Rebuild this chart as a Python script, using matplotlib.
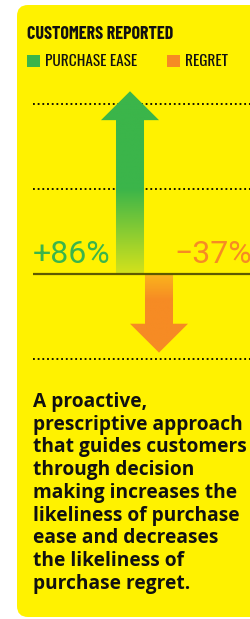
import numpy as np
import matplotlib
matplotlib.use("Agg")
import matplotlib.pyplot as plt
from matplotlib.patches import FancyBboxPatch, Polygon, Rectangle
from matplotlib.colors import LinearSegmentedColormap

# ---- data ----
categories = ["PURCHASE EASE", "REGRET"]
values = [86, -37]
value_labels = ["+86%", "\u221237%"]
gridlines = [80, 40, -40]
title = "CUSTOMERS REPORTED"
body_lines = ["A proactive,", "prescriptive approach", "that guides customers",
              "through decision", "making increases the", "likeliness of purchase",
              "ease and decreases", "the likeliness of", "purchase regret."]

YELLOW = "#FFF200"
GREEN = "#3BB54A"
ORANGE = "#F68B24"
W, H = 250, 619

fig = plt.figure(figsize=(W / 100, H / 100), dpi=100)
fig.patch.set_facecolor("white")

# background axes in pixel units
bg = fig.add_axes([0, 0, 1, 1])
bg.set_xlim(0, W)
bg.set_ylim(H, 0)
bg.axis("off")
bg.add_patch(FancyBboxPatch((17, 5), 260, 612, boxstyle="round,pad=0,rounding_size=11",
                            fc=YELLOW, ec="none"))

bg.text(27, 39, title, fontsize=13, fontweight="bold", family=["Barlow Condensed", "DejaVu Sans"],
        color="#111111", va="baseline", ha="left")
leg_x = [27, 167]
leg_colors = [GREEN, ORANGE]
for lx, col, cat in zip(leg_x, leg_colors, categories):
    bg.add_patch(Rectangle((lx, 55), 13, 12, fc=col, ec="none"))
    bg.text(lx + 18, 66.5, cat, fontsize=11, family=["Oswald", "DejaVu Sans"],
            color="#111111", va="baseline", ha="left")

for i, line in enumerate(body_lines):
    bg.text(33, 407 + i * 22.7, line, fontsize=13.8, fontweight="bold", family=["Open Sans", "DejaVu Sans"],
            color="#111111", va="baseline", ha="left")

# chart axes
px_per_unit = 2.125
zero_px = 274
ymax, ymin = 95, -50
top_px = zero_px - ymax * px_per_unit
bot_px = zero_px - ymin * px_per_unit
left_px, right_px = 33, 250
c0_px, step_px = 130, 29
ax = fig.add_axes([left_px / W, (H - bot_px) / H, (right_px - left_px) / W, (bot_px - top_px) / H])
ax.set_ylim(ymin, ymax)
ax.set_xlim(-(c0_px - left_px) / step_px, (right_px - c0_px) / step_px)
ax.axis("off")
ax.patch.set_alpha(0)

for g in gridlines:
    ax.axhline(g, color="black", lw=1.3, ls=(0, (1, 1.6)), zorder=1)
ax.axhline(0, color="#5f5a00", lw=1.6, zorder=4)

shaft_half = 0.483
head_half = 1.0
head_len = 13.6

cmaps = [
    LinearSegmentedColormap.from_list("g", [(0, "#D4E21B"), (40 / 86, GREEN), (1, GREEN)]),
    LinearSegmentedColormap.from_list("o", [(0, "#FBB51C"), (12 / 37, ORANGE), (1, ORANGE)]),
]
for i, (v, cm) in enumerate(zip(values, cmaps)):
    s = np.sign(v)
    pts = [(i - shaft_half, 0), (i - shaft_half, v - s * head_len), (i - head_half, v - s * head_len),
           (i, v), (i + head_half, v - s * head_len), (i + shaft_half, v - s * head_len),
           (i + shaft_half, 0)]
    poly = Polygon(pts, closed=True, fc="none", ec="none")
    ax.add_patch(poly)
    grad = np.linspace(0, 1, 256).reshape(-1, 1)
    lo, hi = (0, v) if v > 0 else (v, 0)
    img_data = grad if v > 0 else grad[::-1]
    im = ax.imshow(img_data, cmap=cm, aspect="auto", origin="lower",
                   extent=(i - head_half, i + head_half, lo, hi), zorder=3)
    im.set_clip_path(poly)

label_x_px = [33, 174]
label_cols = [GREEN, "#F68B24"]
for lx, lab, col in zip(label_x_px, value_labels, label_cols):
    bg.text(lx, 263, lab, fontsize=23, family=["Roboto", "DejaVu Sans"], color=col,
            va="baseline", ha="left", zorder=5)

ax.set_xlim(-(c0_px - left_px) / step_px, (right_px - c0_px) / step_px)
ax.set_ylim(ymin, ymax)
fig.savefig("out.png", dpi=100, facecolor="white")
